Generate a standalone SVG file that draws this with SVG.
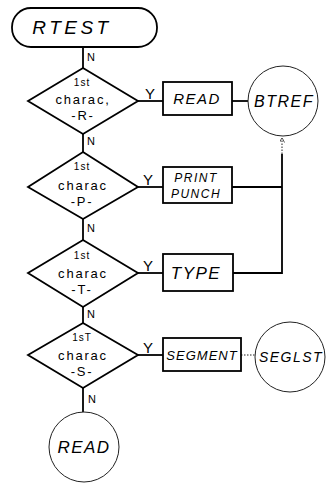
<svg xmlns="http://www.w3.org/2000/svg" width="328" height="483" viewBox="0 0 328 483">
  <style>
    .shape { fill: none; stroke: #000; stroke-width: 1.8; }
    .thin { fill: none; stroke: #222; stroke-width: 1; }
    .line { fill: none; stroke: #000; stroke-width: 1.8; }
    .dots { fill: none; stroke: #222; stroke-width: 1; stroke-dasharray: 1.5 1.5; }
    text { font-family: "Liberation Sans", "DejaVu Sans", sans-serif; fill: #000; text-anchor: middle; font-style: italic; }
    .big { font-size: 19px; letter-spacing: 3.5px; }
    .box { font-size: 15px; letter-spacing: 1.5px; }
    .small { font-size: 12px; letter-spacing: 1.5px; }
    .cond { font-size: 13px; letter-spacing: 1.8px; font-style: normal; }
    .tiny { font-size: 10px; letter-spacing: 1px; font-style: normal; }
    .n { font-size: 11px; font-style: normal; }
    .y { font-size: 15px; font-style: normal; }
  </style>
  <defs>
    <marker id="arrow" viewBox="0 0 6 6" refX="3" refY="3" markerWidth="5" markerHeight="5" orient="auto">
      <path d="M0,0 L6,3 L0,6" fill="none" stroke="#333" stroke-width="1"/>
    </marker>
  </defs>

  <!-- connectors -->
  <g id="connectors">
    <line class="line" x1="83" y1="47" x2="83" y2="68"/>
    <line class="line" x1="83" y1="134" x2="83" y2="152"/>
    <line class="line" x1="83" y1="219" x2="83" y2="240"/>
    <line class="line" x1="83" y1="307" x2="83" y2="323"/>
    <line class="line" x1="83" y1="388" x2="83" y2="412"/>
    <line class="line" x1="138" y1="101" x2="163" y2="101"/>
    <line class="line" x1="138" y1="187" x2="163" y2="187"/>
    <line class="line" x1="138" y1="273" x2="163" y2="273"/>
    <line class="line" x1="138" y1="355" x2="163" y2="355"/>
    <line class="line" x1="232" y1="101" x2="248" y2="101"/>
    <polyline class="line" points="232,187 282,187"/>
    <polyline class="line" points="233,273 282,273 282,154"/>
    <line class="dots" x1="282" y1="154" x2="282" y2="140" marker-end="url(#arrow)"/>
    <line class="dots" x1="241" y1="355" x2="255" y2="355"/>
    <text class="n" x="91" y="61">N</text>
    <text class="n" x="91" y="145">N</text>
    <text class="n" x="91" y="232">N</text>
    <text class="n" x="91" y="318">N</text>
    <text class="n" x="92" y="403">N</text>
    <text class="y" x="150" y="99">Y</text>
    <text class="y" x="148" y="185">Y</text>
    <text class="y" x="148" y="271">Y</text>
    <text class="y" x="148" y="353">Y</text>
  </g>

  <!-- start terminal -->
  <g id="rtest">
    <rect class="shape" x="12" y="8" width="145" height="39" rx="19" ry="19"/>
    <text class="big" x="72" y="34">RTEST</text>
  </g>

  <!-- decisions -->
  <g id="test-r">
    <polygon class="shape" points="83,68 138,101 83,134 28,101"/>
    <text class="tiny" x="82" y="86">1st</text>
    <text class="cond" x="83" y="104">charac,</text>
    <text class="cond" x="83" y="120">-R-</text>
  </g>
  <g id="test-p">
    <polygon class="shape" points="83,152 138,187 83,219 28,187"/>
    <text class="tiny" x="82" y="170">1st</text>
    <text class="cond" x="83" y="190">charac</text>
    <text class="cond" x="82" y="206">-P-</text>
  </g>
  <g id="test-t">
    <polygon class="shape" points="83,240 138,273 83,307 28,273"/>
    <text class="tiny" x="82" y="259">1st</text>
    <text class="cond" x="83" y="278">charac</text>
    <text class="cond" x="82" y="294">-T-</text>
  </g>
  <g id="test-s">
    <polygon class="shape" points="83,323 138,355 83,388 28,355"/>
    <text class="tiny" x="82" y="341">1sT</text>
    <text class="cond" x="83" y="360">charac</text>
    <text class="cond" x="82" y="376">-S-</text>
  </g>

  <!-- processes -->
  <g id="read-box">
    <rect class="shape" x="163" y="82" width="69" height="33"/>
    <text class="box" x="197" y="104">READ</text>
  </g>
  <g id="print-punch">
    <rect class="shape" x="163" y="167" width="69" height="36"/>
    <text class="small" x="196" y="182">PRINT</text>
    <text class="small" x="196" y="198">PUNCH</text>
  </g>
  <g id="type-box">
    <rect class="shape" x="163" y="254" width="70" height="37"/>
    <text class="box" x="196" y="279" style="font-size:17px">TYPE</text>
  </g>
  <g id="segment-box">
    <rect class="shape" x="163" y="338" width="78" height="33"/>
    <text class="small" x="202" y="360" style="font-size:13px;letter-spacing:1px">SEGMENT</text>
  </g>

  <!-- connector circles -->
  <g id="btref">
    <circle class="thin" cx="283" cy="101" r="35"/>
    <text class="box" x="284" y="107" style="font-size:16px">BTREF</text>
  </g>
  <g id="seglst">
    <circle class="thin" cx="290" cy="357" r="35"/>
    <text class="small" x="291" y="362" style="font-size:14px">SEGLST</text>
  </g>
  <g id="read-exit">
    <circle class="thin" cx="84" cy="447" r="35"/>
    <text class="box" x="84" y="453" style="font-size:17px">READ</text>
  </g>
</svg>
